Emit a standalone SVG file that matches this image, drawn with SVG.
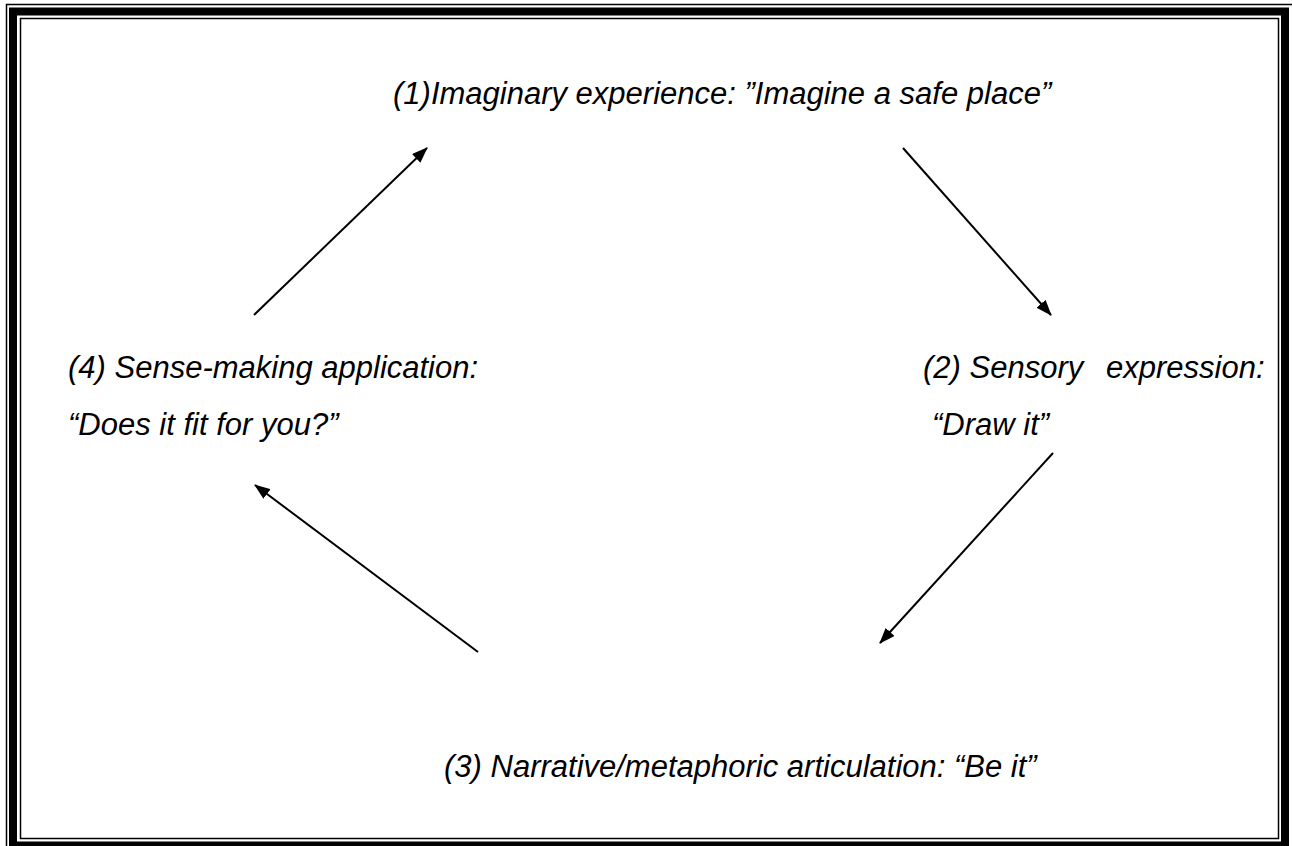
<svg xmlns="http://www.w3.org/2000/svg" width="1292" height="846" viewBox="0 0 1292 846">
  <style>
    .lbl { font-family: "Liberation Sans", Arial, sans-serif; font-style: italic; font-size: 31px; fill: #000; }
    .conn { stroke: #000; stroke-width: 2; fill: none; marker-end: url(#arr); }
  </style>
  <defs>
    <marker id="arr" markerWidth="16" markerHeight="12" refX="15" refY="6" orient="auto" markerUnits="userSpaceOnUse">
      <path d="M0,0 L16,6 L0,12 Z" fill="#000"/>
    </marker>
  </defs>
  <rect width="1292" height="846" fill="#fff"/>
  <g id="border" fill="none" stroke="#000">
    <rect x="6.5" y="4.5" width="1292" height="850" stroke-width="1.5"/>
    <rect x="13" y="11.5" width="1272" height="834" stroke-width="8"/>
    <rect x="20.5" y="18.5" width="1258" height="820" stroke-width="1.5"/>
  </g>
  <g id="connectors">
    <line class="conn" x1="254" y1="315" x2="427" y2="148"/>
    <line class="conn" x1="903" y1="148" x2="1051" y2="315"/>
    <line class="conn" x1="1053" y1="453" x2="880" y2="643"/>
    <line class="conn" x1="478" y1="652" x2="255" y2="485"/>
  </g>
  <g id="node1">
    <text class="lbl" x="393" y="104">(1)Imaginary experience: ”Imagine a safe place”</text>
  </g>
  <g id="node2">
    <text class="lbl" x="923" y="378" xml:space="preserve">(2) Sensory  <tspan x="1106">expression:</tspan></text>
    <text class="lbl" x="932" y="435">“Draw it”</text>
  </g>
  <g id="node3">
    <text class="lbl" x="444" y="777">(3) Narrative/metaphoric articulation: “Be it”</text>
  </g>
  <g id="node4">
    <text class="lbl" x="68" y="378">(4) Sense-making application:</text>
    <text class="lbl" x="68" y="435">“Does it fit for you?”</text>
  </g>
</svg>
